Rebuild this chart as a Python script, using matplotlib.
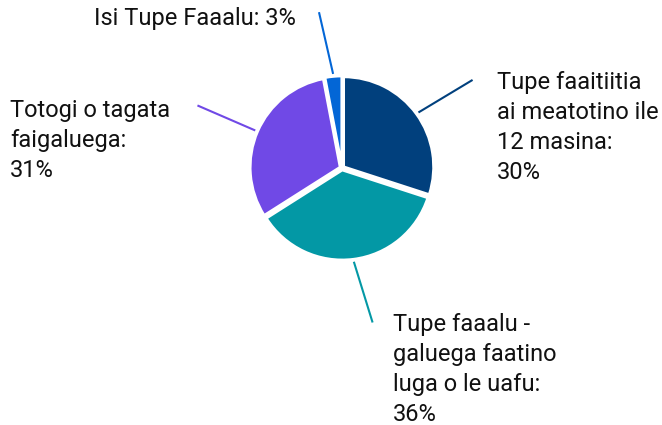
import matplotlib
matplotlib.use("Agg")
import matplotlib.pyplot as plt
import numpy as np

labels = ["Tupe faaitiitia\nai meatotino ile\n12 masina:\n30%",
          "Tupe faaalu -\ngaluega faatino\nluga o le uafu:\n36%",
          "Totogi o tagata\nfaigaluega:\n31%",
          "Isi Tupe Faaalu: 3%"]
values = [30, 36, 31, 3]
colors = ["#01407D", "#0398A5", "#7049E6", "#0366D6"]

W, H = 662, 425
fig = plt.figure(figsize=(W / 100, H / 100), dpi=100)
ax = fig.add_axes([0, 0, 1, 1])
cx, cy, r = 342, H - 168, 90
wedges, _ = ax.pie(values, colors=colors, startangle=90, counterclock=False,
                   center=(cx, cy), radius=r, explode=[2, 2, 2, 2],
                   wedgeprops=dict(edgecolor="white", linewidth=2))
ax.set_xlim(0, W)
ax.set_ylim(0, H)
ax.set_aspect("equal")
ax.axis("off")

# text anchor positions (pixels, top-left origin), alignment, leader angle tweak
text_pos = [(497, 71, "left", -2), (393, 313, "left", 4), (10, 99, "left", 0), (296, 7, "right", 3)]
for w, lab, col, (tx, ty, ha, da) in zip(wedges, labels, colors, text_pos):
    ang0 = np.deg2rad((w.theta1 + w.theta2) / 2)
    ang1 = ang0 + np.deg2rad(da)
    r0, r1 = r * 1.05, r * 1.75
    ax.plot([cx + r0 * np.cos(ang0), cx + r1 * np.cos(ang1)],
            [cy + r0 * np.sin(ang0), cy + r1 * np.sin(ang1)],
            color=col, lw=1.5, solid_capstyle="butt")
    ax.text(tx, H - ty, lab, ha=ha, va="top", fontsize=17,
            family="Roboto", color="#111111", linespacing=1.38)

fig.savefig("out.png", dpi=100)
